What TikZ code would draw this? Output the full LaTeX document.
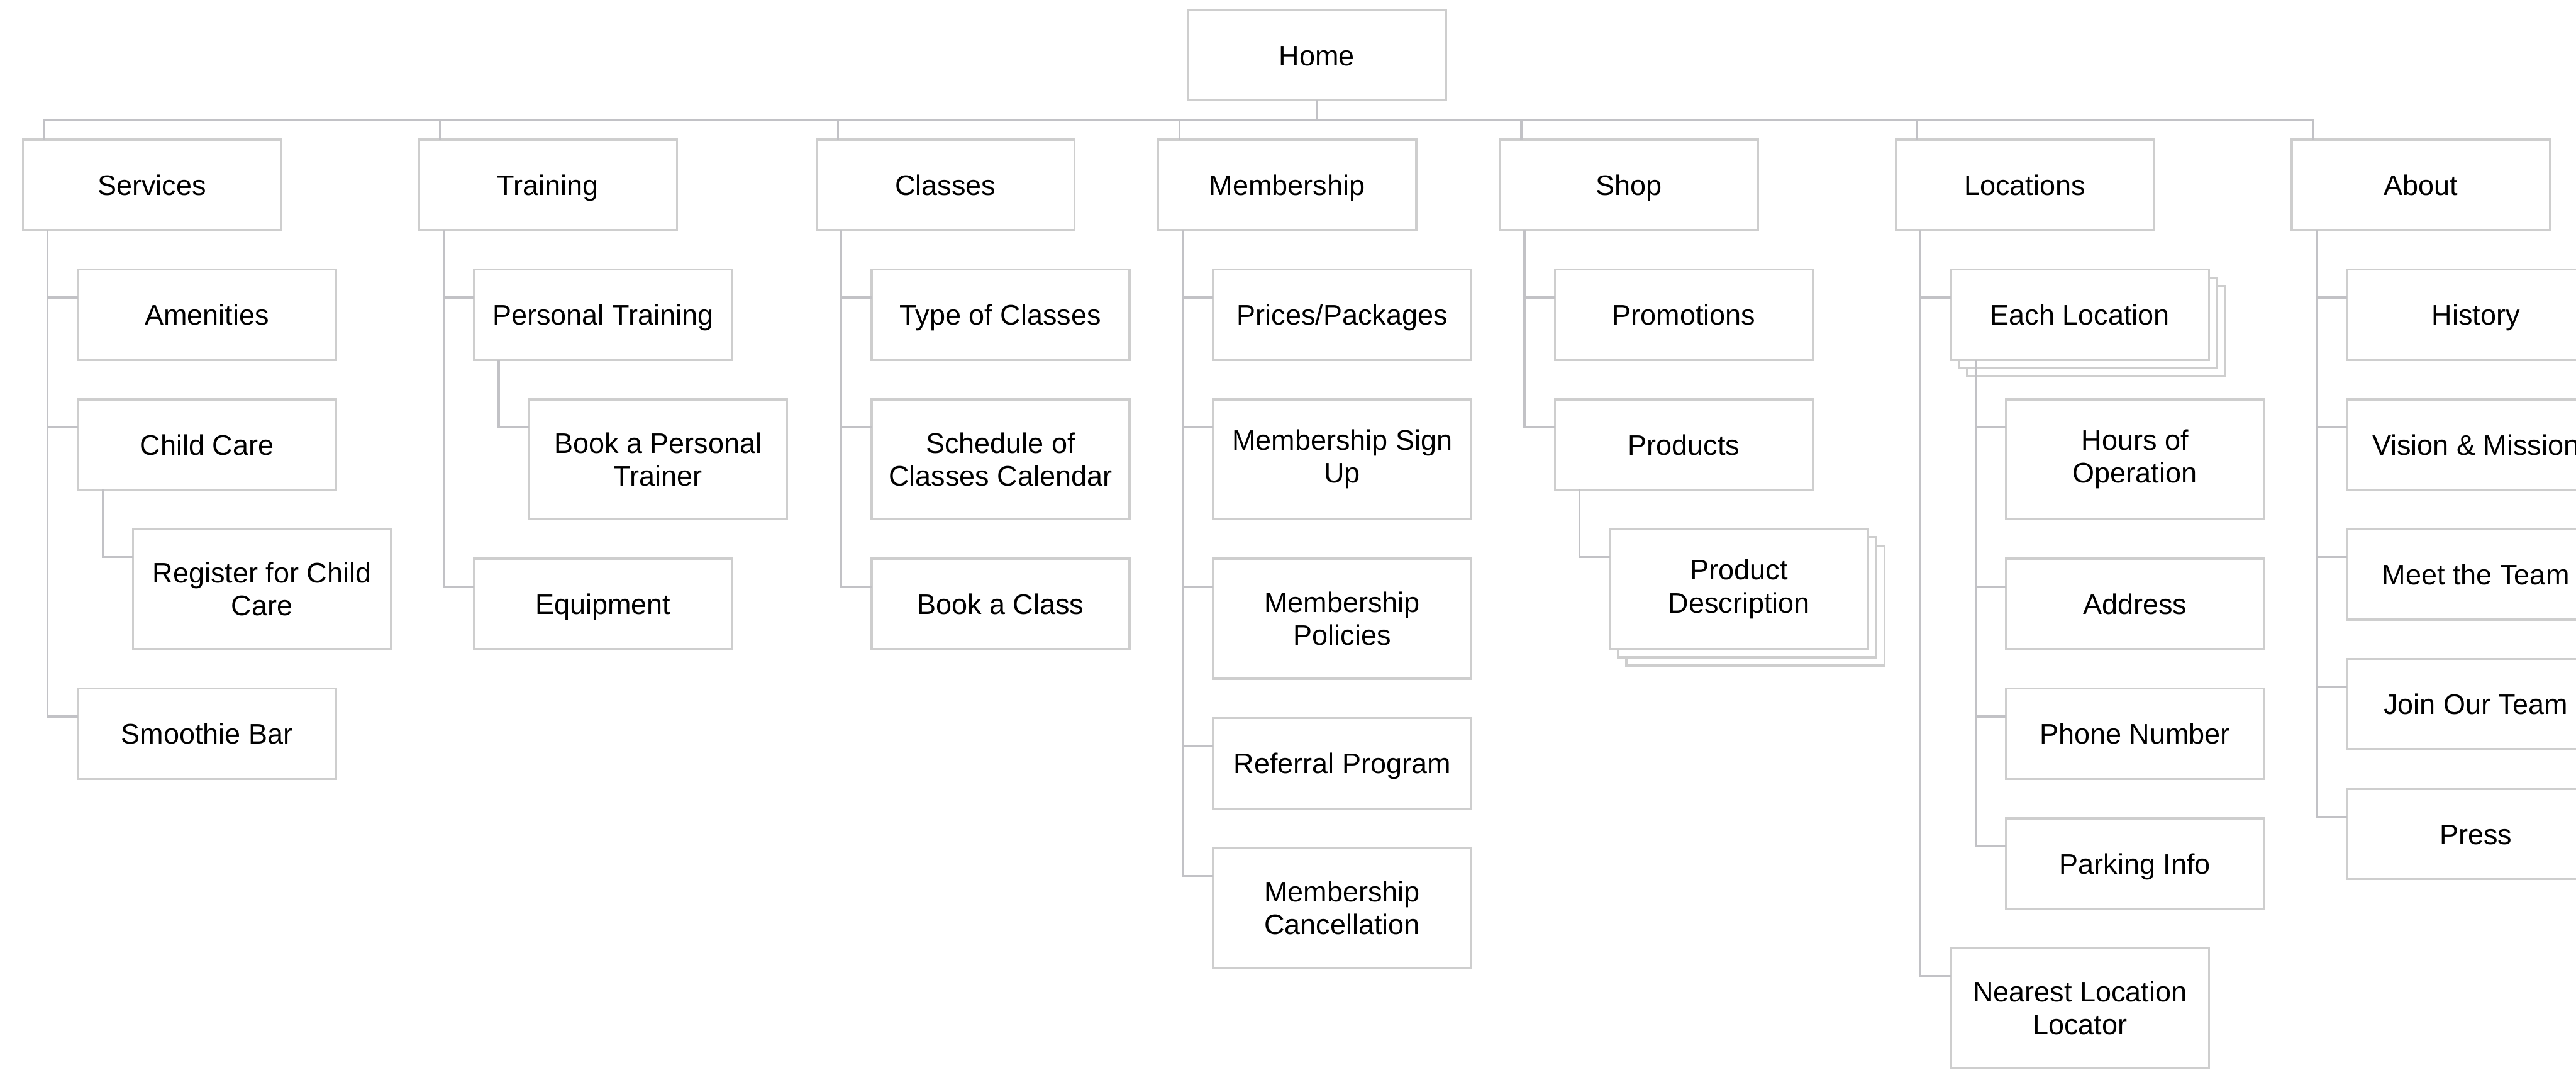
\documentclass[tikz,border=0pt]{standalone}
\usepackage{fontspec}
\setmainfont{Liberation Sans}
\usepackage{tikz}
\usetikzlibrary{positioning, shadows}
\definecolor{BoxGray}{RGB}{206,206,206}
\definecolor{LinkGray}{RGB}{194,194,198}

\begin{document}
\begin{tikzpicture}[
  font=\fontsize{9.8}{11.4}\selectfont,
  node distance=0.48cm and 1.68cm,
  box/.style={draw=BoxGray, line width=0.75pt, fill=white, outer sep=0pt, inner sep=2pt, minimum width=3.14cm, minimum height=1.1cm, align=center, text height=0.72em, text depth=0pt},
  tallbox/.style={box, minimum height=1.46cm, text height=, text depth=},
  stack/.style={copy shadow={shadow xshift=0.2cm, shadow yshift=-0.2cm, draw=BoxGray, fill=white},
                copy shadow={shadow xshift=0.1cm, shadow yshift=-0.1cm, draw=BoxGray, fill=white}},
  link/.style={draw=LinkGray, line width=0.75pt}
]
  \useasboundingbox (0,0) rectangle (31.36,-13.02);

  % top levels
  \node[box] (home) at (16.03,-0.67) {Home};
  \node[box] (serv) at (1.85,-2.25) {Services};
  \node[box, right=1.68cm of serv] (train) {Training};
  \node[box, right=1.70cm of train] (cls) {Classes};
  \node[box, right=1.02cm of cls] (memb) {Membership};
  \node[box, right=1.02cm of memb] (shop) {Shop};
  \node[box, right=1.68cm of shop] (loc) {Locations};
  \node[box, right=1.68cm of loc] (about) {About};

  % Services
  \node[box, below right=0.48cm and 0.67cm of serv.south west] (amen) {Amenities};
  \node[box, below=of amen] (care) {Child Care};
  \node[tallbox, below right=0.48cm and 0.67cm of care.south west] (regcare) {Register for Child\\Care};
  \node[box, below right=0.48cm and -0.67cm of regcare.south west] (smoothie) {Smoothie Bar};

  % Training
  \node[box, below right=0.48cm and 0.67cm of train.south west] (ptrain) {Personal Training};
  \node[tallbox, below right=0.48cm and 0.67cm of ptrain.south west] (booktrainer) {Book a Personal\\Trainer};
  \node[box, below right=0.48cm and -0.67cm of booktrainer.south west] (equip) {Equipment};

  % Classes
  \node[box, below right=0.48cm and 0.67cm of cls.south west] (ctype) {Type of Classes};
  \node[tallbox, below=of ctype] (sched) {Schedule of\\Classes Calendar};
  \node[box, below=of sched] (bookcls) {Book a Class};

  % Membership
  \node[box, below right=0.48cm and 0.67cm of memb.south west] (prices) {Prices/Packages};
  \node[tallbox, below=of prices] (signup) {Membership Sign\\Up};
  \node[tallbox, below=of signup] (policy) {Membership\\Policies};
  \node[box, below=of policy] (referral) {Referral Program};
  \node[tallbox, below=of referral] (cancel) {Membership\\Cancellation};

  % Shop
  \node[box, below right=0.48cm and 0.67cm of shop.south west] (promo) {Promotions};
  \node[box, below=of promo] (products) {Products};
  \node[tallbox, stack, below right=0.48cm and 0.67cm of products.south west] (proddesc) {Product\\Description};

  % Locations
  \node[box, stack, below right=0.48cm and 0.67cm of loc.south west] (eachloc) {Each Location};
  \node[tallbox, below right=0.48cm and 0.67cm of eachloc.south west] (hours) {Hours of\\Operation};
  \node[box, below=of hours] (address) {Address};
  \node[box, below=of address] (phone) {Phone Number};
  \node[box, below=of phone] (parking) {Parking Info};
  \node[tallbox, below right=0.48cm and -0.67cm of parking.south west] (nearest) {Nearest Location\\Locator};

  % About
  \node[box, below right=0.48cm and 0.67cm of about.south west] (history) {History};
  \node[box, below=of history] (vision) {Vision \& Mission};
  \node[box, below=of vision] (team) {Meet the Team};
  \node[box, below=of team] (join) {Join Our Team};
  \node[box, below=of join] (press) {Press};

  % bus from Home
  \coordinate (bus) at ([yshift=-0.24cm]home.south);
  \draw[link] (home.south) -- (bus);
  \draw[link] (bus) -| ([xshift=0.26cm]serv.north west);
  \draw[link] (bus) -| ([xshift=0.26cm]train.north west);
  \draw[link] (bus) -| ([xshift=0.26cm]cls.north west);
  \draw[link] (bus) -| ([xshift=0.26cm]memb.north west);
  \draw[link] (bus) -| ([xshift=0.26cm]shop.north west);
  \draw[link] (bus) -| ([xshift=0.26cm]loc.north west);
  \draw[link] (bus) -| ([xshift=0.26cm]about.north west);

  % Services links
  \draw[link] ([xshift=0.3cm]serv.south west) |- ([yshift=-0.34cm]amen.north west);
  \draw[link] ([xshift=0.3cm]serv.south west) |- ([yshift=-0.34cm]care.north west);
  \draw[link] ([xshift=0.3cm]serv.south west) |- ([yshift=-0.34cm]smoothie.north west);
  \draw[link] ([xshift=0.3cm]care.south west) |- ([yshift=-0.34cm]regcare.north west);

  % Training links
  \draw[link] ([xshift=0.3cm]train.south west) |- ([yshift=-0.34cm]ptrain.north west);
  \draw[link] ([xshift=0.3cm]train.south west) |- ([yshift=-0.34cm]equip.north west);
  \draw[link] ([xshift=0.3cm]ptrain.south west) |- ([yshift=-0.34cm]booktrainer.north west);

  % Classes links
  \draw[link] ([xshift=0.3cm]cls.south west) |- ([yshift=-0.34cm]ctype.north west);
  \draw[link] ([xshift=0.3cm]cls.south west) |- ([yshift=-0.34cm]sched.north west);
  \draw[link] ([xshift=0.3cm]cls.south west) |- ([yshift=-0.34cm]bookcls.north west);

  % Membership links
  \draw[link] ([xshift=0.3cm]memb.south west) |- ([yshift=-0.34cm]prices.north west);
  \draw[link] ([xshift=0.3cm]memb.south west) |- ([yshift=-0.34cm]signup.north west);
  \draw[link] ([xshift=0.3cm]memb.south west) |- ([yshift=-0.34cm]policy.north west);
  \draw[link] ([xshift=0.3cm]memb.south west) |- ([yshift=-0.34cm]referral.north west);
  \draw[link] ([xshift=0.3cm]memb.south west) |- ([yshift=-0.34cm]cancel.north west);

  % Shop links
  \draw[link] ([xshift=0.3cm]shop.south west) |- ([yshift=-0.34cm]promo.north west);
  \draw[link] ([xshift=0.3cm]shop.south west) |- ([yshift=-0.34cm]products.north west);
  \draw[link] ([xshift=0.3cm]products.south west) |- ([yshift=-0.34cm]proddesc.north west);

  % Locations links
  \draw[link] ([xshift=0.3cm]loc.south west) |- ([yshift=-0.34cm]eachloc.north west);
  \draw[link] ([xshift=0.3cm]loc.south west) |- ([yshift=-0.34cm]nearest.north west);
  \draw[link] ([xshift=0.3cm]eachloc.south west) |- ([yshift=-0.34cm]hours.north west);
  \draw[link] ([xshift=0.3cm]eachloc.south west) |- ([yshift=-0.34cm]address.north west);
  \draw[link] ([xshift=0.3cm]eachloc.south west) |- ([yshift=-0.34cm]phone.north west);
  \draw[link] ([xshift=0.3cm]eachloc.south west) |- ([yshift=-0.34cm]parking.north west);

  % About links
  \draw[link] ([xshift=0.3cm]about.south west) |- ([yshift=-0.34cm]history.north west);
  \draw[link] ([xshift=0.3cm]about.south west) |- ([yshift=-0.34cm]vision.north west);
  \draw[link] ([xshift=0.3cm]about.south west) |- ([yshift=-0.34cm]team.north west);
  \draw[link] ([xshift=0.3cm]about.south west) |- ([yshift=-0.34cm]join.north west);
  \draw[link] ([xshift=0.3cm]about.south west) |- ([yshift=-0.34cm]press.north west);
\end{tikzpicture}
\end{document}
